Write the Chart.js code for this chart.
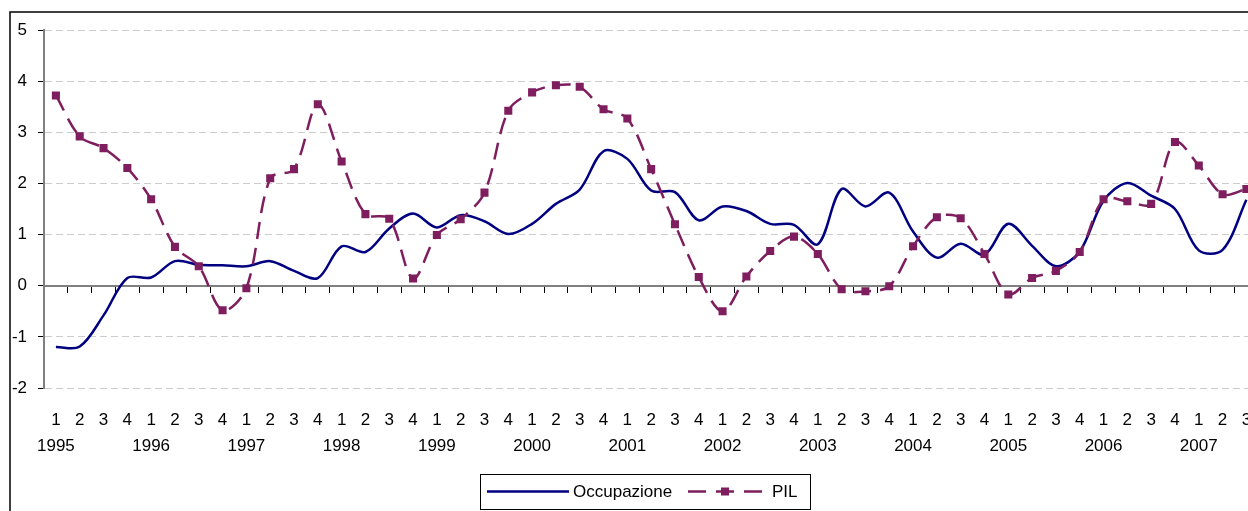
<!DOCTYPE html>
<html>
<head>
<meta charset="utf-8">
<script src="https://cdn.jsdelivr.net/npm/chart.js@4/dist/chart.umd.min.js"></script>
<style>
html,body{margin:0;padding:0;background:#fff;overflow:hidden;}
#wrap{position:relative;width:1248px;height:511px;overflow:hidden;}
canvas{display:block;}
</style>
</head>
<body>
<div id="wrap"><canvas id="c" width="1264" height="511"></canvas></div>
<script>
// ---- data ----
const quarters = ['1','2','3','4','1','2','3','4','1','2','3','4','1','2','3','4','1','2','3','4',
                  '1','2','3','4','1','2','3','4','1','2','3','4','1','2','3','4','1','2','3','4',
                  '1','2','3','4','1','2','3','4','1','2','3'];
const years = ['1995','','','','1996','','','','1997','','','','1998','','','','1999','','','',
               '2000','','','','2001','','','','2002','','','','2003','','','','2004','','','',
               '2005','','','','2006','','','','2007','',''];
const occupazione = [-1.20,-1.19,-0.58,0.15,0.16,0.48,0.41,0.40,0.38,0.48,0.29,0.15,0.77,0.66,1.12,1.41,
                     1.14,1.38,1.26,1.01,1.21,1.60,1.88,2.63,2.48,1.86,1.83,1.28,1.55,1.46,1.21,1.19,
                     0.81,1.89,1.55,1.82,1.06,0.55,0.82,0.61,1.21,0.78,0.38,0.67,1.66,2.01,1.76,1.50,
                     0.69,0.70,1.68];
const pil = [3.72,2.92,2.69,2.30,1.69,0.76,0.38,-0.48,-0.05,2.10,2.28,3.55,2.43,1.40,1.31,0.14,
             0.99,1.30,1.82,3.42,3.78,3.92,3.89,3.45,3.27,2.28,1.20,0.17,-0.50,0.18,0.68,0.96,
             0.62,-0.07,-0.11,-0.01,0.77,1.34,1.32,0.62,-0.17,0.15,0.29,0.66,1.69,1.65,1.60,2.81,
             2.35,1.79,1.89];
const seriesNames = ['Occupazione','PIL'];
const yMin = -2, yMax = 5, yStep = 1;

// ---- style ----
const FONT = '"Liberation Sans", Arial, sans-serif';
const BLUE = '#000080';
const PURPLE = '#7E1E5E';
const PIL_DASH = [17, 9];

const labels = quarters.map((q, i) => [q, years[i]]);

const framePlugin = {
  id: 'frame',
  beforeDraw(chart) {
    const ctx = chart.ctx;
    ctx.save();
    ctx.fillStyle = '#fff';
    ctx.fillRect(0, 0, chart.width, chart.height);
    ctx.strokeStyle = '#000';
    ctx.lineWidth = 1.5;
    ctx.strokeRect(10, 12, chart.width + 40, chart.height + 40);
    ctx.restore();
  }
};

const legendPlugin = {
  id: 'excelLegend',
  afterDraw(chart) {
    const ctx = chart.ctx;
    const ds = chart.data.datasets;
    ctx.save();
    ctx.strokeStyle = '#000';
    ctx.lineWidth = 1;
    ctx.strokeRect(480.5, 474.5, 330, 35);
    const cy = 491.5;
    ctx.strokeStyle = ds[0].borderColor;
    ctx.lineWidth = ds[0].borderWidth;
    ctx.beginPath(); ctx.moveTo(487, cy); ctx.lineTo(569, cy); ctx.stroke();
    ctx.fillStyle = '#000';
    ctx.font = '17px ' + FONT;
    ctx.textBaseline = 'middle';
    ctx.textAlign = 'left';
    ctx.fillText(ds[0].label, 573, cy + 1);
    ctx.strokeStyle = ds[1].borderColor;
    ctx.lineWidth = ds[1].borderWidth;
    ctx.setLineDash([18, 10]);
    ctx.beginPath(); ctx.moveTo(688, cy); ctx.lineTo(762, cy); ctx.stroke();
    ctx.setLineDash([]);
    ctx.fillStyle = ds[1].pointBackgroundColor;
    ctx.fillRect(721, cy - 4, 8, 8);
    ctx.fillStyle = '#000';
    ctx.fillText(ds[1].label, 772, cy + 1);
    ctx.restore();
  }
};

const chart = new Chart(document.getElementById('c'), {
  type: 'line',
  data: {
    labels: labels,
    datasets: [
      {
        label: seriesNames[0], data: occupazione,
        borderColor: BLUE, backgroundColor: BLUE, borderWidth: 2.5,
        pointRadius: 0, tension: 0.33, fill: false, order: 2
      },
      {
        label: seriesNames[1], data: pil,
        borderColor: PURPLE, backgroundColor: PURPLE, borderWidth: 2.5, borderDash: PIL_DASH,
        pointStyle: 'rect', pointRadius: 5.7, pointBackgroundColor: PURPLE,
        pointBorderColor: PURPLE, pointBorderWidth: 0, tension: 0.33, fill: false, order: 1
      }
    ]
  },
  options: {
    responsive: false,
    animation: false,
    events: [],
    layout: { padding: { left: 0, top: 30, right: 0, bottom: 0 } },
    plugins: { legend: { display: false }, tooltip: { enabled: false } },
    scales: {
      x: {
        type: 'category', position: 'bottom', offset: true,
        grid: { display: false, drawTicks: false },
        border: { display: false },
        ticks: {
          autoSkip: false, maxRotation: 0, minRotation: 0, padding: 19, color: '#000',
          font: { family: FONT, size: 17, lineHeight: 1.55 }
        },
        afterFit(s) { s.height = 123; s.paddingRight = 0; }
      },
      x0: {
        type: 'category', axis: 'x', position: { y: 0 }, offset: true,
        grid: { display: true, offset: true, drawOnChartArea: false, drawTicks: true,
                tickLength: 6, tickColor: '#000', tickWidth: 1 },
        border: { display: true, color: '#808080', width: 2 },
        ticks: { display: false }
      },
      y: {
        min: yMin, max: yMax,
        ticks: { stepSize: yStep, padding: 11, color: '#000', font: { family: FONT, size: 17 } },
        grid: { color: '#cccccc', lineWidth: 1, drawTicks: true, tickLength: 6, tickColor: '#000',
                tickWidth: 1, tickBorderDash: [] },
        border: { display: true, color: '#808080', width: 2, dash: [7, 4] },
        afterFit(s) { s.width = 44; }
      }
    }
  },
  plugins: [framePlugin, legendPlugin]
});
</script>
</body>
</html>
